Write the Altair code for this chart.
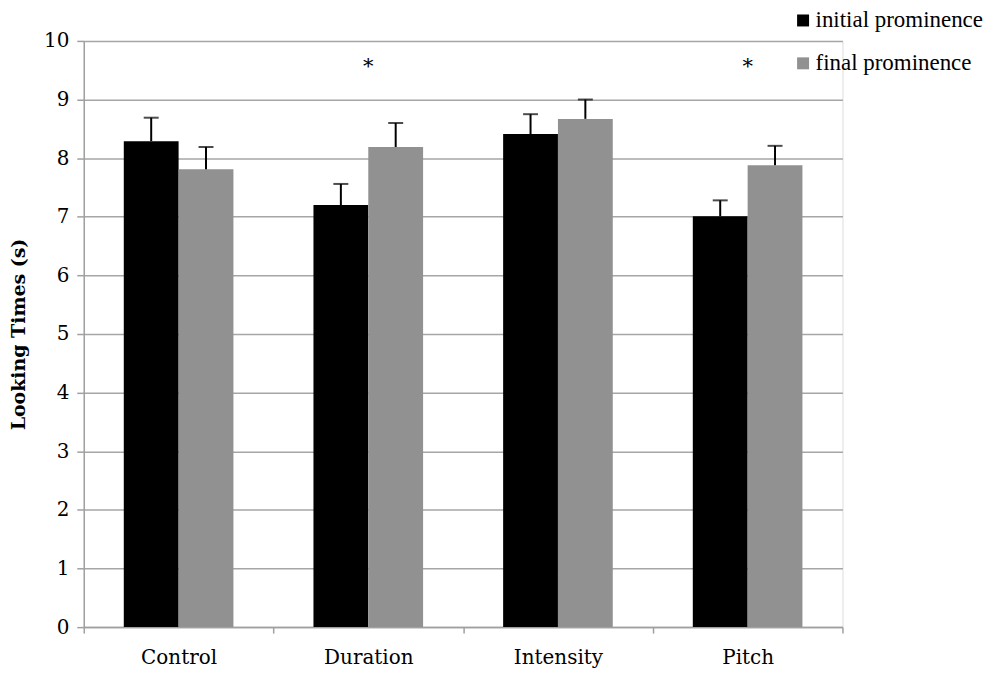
import altair as alt
import pandas as pd

categories = ["Control", "Duration", "Intensity", "Pitch"]
series = ["initial prominence", "final prominence"]
initial_vals = [8.29, 7.20, 8.41, 7.01]
initial_err = [0.40, 0.36, 0.34, 0.27]
final_vals = [7.81, 8.19, 8.67, 7.88]
final_err = [0.38, 0.41, 0.33, 0.33]
significant = ["Duration", "Pitch"]
star_level = 9.55

rows = []
for i, c in enumerate(categories):
    rows.append({"cat": c, "series": series[0], "value": initial_vals[i],
                 "upper": initial_vals[i] + initial_err[i]})
    rows.append({"cat": c, "series": series[1], "value": final_vals[i],
                 "upper": final_vals[i] + final_err[i]})
df = pd.DataFrame(rows)
stars = pd.DataFrame({"cat": significant, "y": [star_level] * len(significant), "t": ["*"] * len(significant)})

xscale = alt.Scale(domain=categories, paddingInner=0, paddingOuter=0)
xoff_scale = alt.Scale(domain=series, paddingInner=0, paddingOuter=0.73)
yscale = alt.Scale(domain=[0, 10], nice=False)
color_scale = alt.Scale(domain=series, range=["#000000", "#919191"])

x_enc = alt.X("cat:N", scale=xscale, sort=categories,
              axis=alt.Axis(title=None, labelFont="DejaVu Serif", labelFontSize=20,
                            labelColor="#000000", labelPadding=14, tickBand="extent",
                            tickSize=6, tickColor="#A0A0A0", tickWidth=1.5,
                            domainColor="#A0A0A0", domainWidth=1.5, labelAngle=0,
                            grid=False))

bars = alt.Chart(df).mark_bar().encode(
    x=x_enc,
    xOffset=alt.XOffset("series:N", scale=xoff_scale, sort=series),
    y=alt.Y("value:Q", scale=yscale,
            axis=alt.Axis(title="Looking Times (s)", titleFont="DejaVu Serif",
                          titleFontSize=19, titleFontWeight="bold", titleColor="#000000",
                          titlePadding=15, values=list(range(0, 11)), format="d",
                          labelFont="DejaVu Serif", labelFontSize=20, labelColor="#000000",
                          labelPadding=8, tickSize=7, tickColor="#A0A0A0", tickWidth=1.5,
                          domainColor="#A0A0A0", domainWidth=1.5,
                          grid=True, gridColor="#A6A6A6", gridWidth=1.5)),
    color=alt.Color("series:N", scale=color_scale, sort=series,
                    legend=alt.Legend(title=None, orient="none", legendX=710, legendY=-32,
                                      symbolType="square", symbolSize=144,
                                      symbolStrokeWidth=0, labelFont="Liberation Serif",
                                      labelFontSize=23, labelColor="#000000", labelLimit=0,
                                      labelOffset=1, rowPadding=19, padding=0)),
)

err_rule = alt.Chart(df).mark_rule(color="#000000", strokeWidth=2).encode(
    x=alt.X("cat:N", scale=xscale, sort=categories),
    xOffset=alt.XOffset("series:N", scale=xoff_scale, sort=series),
    y="value:Q",
    y2="upper:Q",
)

err_cap = alt.Chart(df).mark_tick(color="#000000", thickness=2, size=15).encode(
    x=alt.X("cat:N", scale=xscale, sort=categories),
    xOffset=alt.XOffset("series:N", scale=xoff_scale, sort=series),
    y="upper:Q",
)

star_text = alt.Chart(stars).mark_text(font="DejaVu Serif", fontSize=21, color="#000000",
                                       baseline="middle").encode(
    x=alt.X("cat:N", scale=xscale, sort=categories),
    y=alt.Y("y:Q", scale=yscale),
    text="t:N",
)

chart = alt.layer(bars, err_rule, err_cap, star_text).properties(
    width=761, height=588,
    autosize=alt.AutoSizeParams(type="none"),
    padding={"left": 76, "top": 32, "right": 150, "bottom": 42},
).configure_view(stroke=None).configure(background="#FFFFFF")

chart.save("out.html", embed_options={"renderer": "svg", "actions": False})
